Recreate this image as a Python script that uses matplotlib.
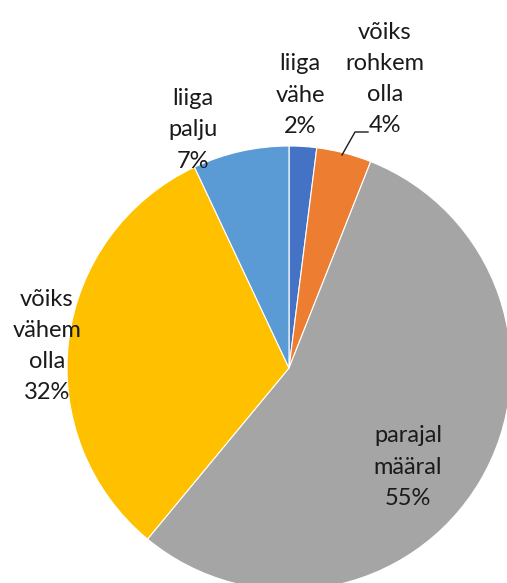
import matplotlib
matplotlib.use("Agg")
import matplotlib.pyplot as plt

# data
labels = ["liiga\nvähe", "võiks\nrohkem\nolla", "parajal\nmääral", "võiks\nvähem\nolla", "liiga\npalju"]
shares = [2, 4, 55, 32, 7]
colors = ["#4472C4", "#ED7D31", "#A5A5A5", "#FFC000", "#5B9BD5"]

W, H = 507, 583
fig = plt.figure(figsize=(W / 100, H / 100), dpi=100)
ax = fig.add_axes([0, 0, 1, 1])

cx, cy, r = 289, H - 368, 222
ax.pie(shares, colors=colors, startangle=90, counterclock=False,
       center=(cx, cy), radius=r, frame=True,
       wedgeprops=dict(linewidth=0.8, edgecolor="white"))
ax.set_xlim(0, W)
ax.set_ylim(0, H)
ax.set_aspect("equal")
ax.axis("off")

# label positions (pixel coords from top-left, centre of text block)
label_pos = [(300, 95), (385, 79), (408, 467), (47, 346), (193, 130)]
for lab, val, (px, py) in zip(labels, shares, label_pos):
    ax.text(px, H - py, f"{lab}\n{val}%", ha="center", va="center",
            fontsize=17, family="Lato", color="#1a1a1a", linespacing=1.6)

# leader line for the small orange slice
ax.plot([342, 355, 368], [H - 155, H - 132, H - 132], color="#1a1a1a", lw=1)

fig.savefig("out.png", dpi=100)
